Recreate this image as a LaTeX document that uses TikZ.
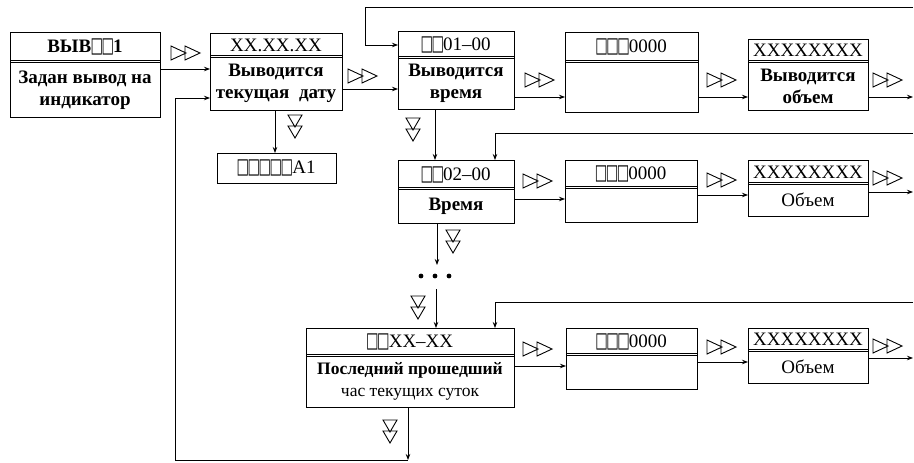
\documentclass[tikz,border=0pt]{standalone}
\usepackage{fontspec}
\setmainfont{Liberation Serif}
\newfontfamily\sqf[FakeStretch=0.62,Scale=1.12]{DejaVu Sans}
\usetikzlibrary{arrows.meta}
\newcommand\sq{{\sqf\kern-0.035em □\kern-0.035em}}
\newcommand\mkbox[8]{%
  \node[bx, minimum width={#4-#2}, minimum height={#5-#3}] (#1) at ({(#2+#4)/2},{(#3+#5)/2}) {};
  \draw[sepline] (#2,#6) -- (#4,#6);
  \draw[sepline] (#2,{#6+2.5}) -- (#4,{#6+2.5});
  \node[txt] (#1t) at ({(#2+#4)/2},{(#3+#6)/2+1}) {#7};
  \node[txt] (#1b) at ({(#2+#4)/2},{(#6+2.5+#5)/2}) {#8};
}
\tikzset{
  bx/.style={draw, line width=1pt, inner sep=0pt, outer sep=0pt, rectangle},
  sepline/.style={line width=0.9pt},
  txt/.style={inner sep=0pt, align=center, font=\fontsize{19}{22}\selectfont},
  arr/.style={line width=0.9pt, -{Stealth[length=6pt,width=4.5pt]}},
  htri/.pic={\draw[line width=0.9pt, line join=miter] (0,-7)--(15,0)--(0,7)--cycle (14,-7)--(29,0)--(14,7)--cycle;},
  vtri/.pic={\draw[line width=0.9pt, line join=miter] (-7,0)--(7,0)--(0,12)--cycle (-7,11)--(7,11)--(0,23)--cycle;}
}
\begin{document}
\begin{tikzpicture}[x=1pt,y=-1pt]
\useasboundingbox (0,0) rectangle (914,463);
% row 1
\mkbox{b1}{10}{32}{160}{117}{60}{\bfseries ВЫВ\sq\sq1}{\bfseries Задан вывод на\\\bfseries индикатор}
\mkbox{b2}{210}{33}{342}{110}{55}{XX.XX.XX}{\bfseries Выводится\\\bfseries текущая\ \ дату}
\mkbox{b3}{398}{31}{514}{109}{56}{\sq\sq01–00}{\bfseries Выводится\\\bfseries время}
\mkbox{b4}{565}{32}{698}{112}{60}{\sq\sq\sq0000}{}
\mkbox{b5}{748}{39}{868}{110}{60}{XXXXXXXX}{\bfseries Выводится\\\bfseries объем}
\node[bx, minimum width=119, minimum height=30, font=\fontsize{19}{22}\selectfont] (a1) at (276.5,168) {\sq\sq\sq\sq\sq A1};
% row 2
\mkbox{b6}{398}{160}{514}{223}{187}{\sq\sq02–00}{\bfseries Время}
\mkbox{b7}{565}{160}{697}{222}{186}{\sq\sq\sq0000}{}
\mkbox{b8}{748}{160}{868}{216}{182}{XXXXXXXX}{Объем}
% row 3
\mkbox{b9}{306}{328}{514}{407}{354}{\sq\sq XX–XX}{\fontsize{17.5}{22}\selectfont\bfseries Последний прошедший\\\fontsize{17.5}{22}\selectfont час текущих суток}
\mkbox{b10}{566}{328}{697}{389}{353}{\sq\sq\sq0000}{}
\mkbox{b11}{748}{328}{868}{383}{349}{XXXXXXXX}{Объем}
% free ends
\coordinate (o1) at (913,97);
\coordinate (o2) at (913,192);
\coordinate (o3) at (913,358);
\coordinate (r1) at (913,7);
\coordinate (r2) at (913,133);
\coordinate (r3) at (913,302);
\coordinate (d1) at (437,265);
\coordinate (d2) at (436,289);
\coordinate (d3) at (408,460);
\coordinate (c4) at (175,98);
% horizontal connectors row 1
\draw[arr] (b1.east |- 0,69) -- (b2.west |- 0,69);
\draw[arr] (b2.east |- 0,89) -- (b3.west |- 0,89);
\draw[arr] (b3.east |- 0,97) -- (b4.west |- 0,97);
\draw[arr] (b4.east |- 0,97) -- (b5.west |- 0,97);
\draw[arr] (b5.east |- 0,97) -- (o1);
% row 2
\draw[arr] (b6.east |- 0,199) -- (b7.west |- 0,199);
\draw[arr] (b7.east |- 0,195) -- (b8.west |- 0,195);
\draw[arr] (b8.east |- 0,192) -- (o2);
% row 3
\draw[arr] (b9.east |- 0,366) -- (b10.west |- 0,366);
\draw[arr] (b10.east |- 0,362) -- (b11.west |- 0,362);
\draw[arr] (b11.east |- 0,358) -- (o3);
% loops
\draw[arr] (r1) -- (365,7) |- (b3.west |- 0,45);
\draw[arr] (r2) -| (b6.north -| 495,0);
\draw[arr] (r3) -| (b9.north -| 495,0);
% verticals
\draw[arr] (b2.south -| 275,0) -- (a1.north -| 275,0);
\draw[arr] (b3.south -| 435,0) -- (b6.north -| 435,0);
\draw[arr] (b6.south -| d1) -- (d1);
\draw[arr] (d2) -- (b9.north -| d2);
\draw[arr] (b9.south -| d3) -- (d3);
\draw[arr] (d3) -| (c4) -- (b2.west |- c4);
% dots
\fill (421,276) circle (2.4);
\fill (435,276) circle (2.4);
\fill (449,276) circle (2.4);
% triangle marks
\pic at (171,53) {htri};
\pic at (348,76) {htri};
\pic at (525,80) {htri};
\pic at (707,80) {htri};
\pic at (873,80) {htri};
\pic at (523,181) {htri};
\pic at (707,180) {htri};
\pic at (873,178) {htri};
\pic at (523,349) {htri};
\pic at (707,347) {htri};
\pic at (873,346) {htri};
\pic at (295,115) {vtri};
\pic at (413,118) {vtri};
\pic at (453,230) {vtri};
\pic at (418,296) {vtri};
\pic at (390,420) {vtri};
\end{tikzpicture}
\end{document}
